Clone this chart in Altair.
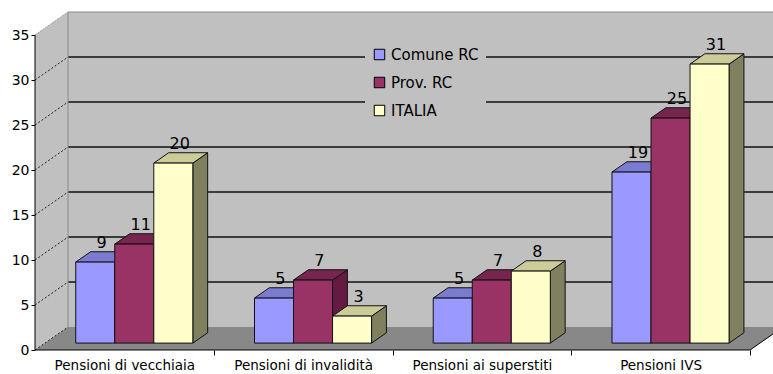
import json

import altair as alt
import pandas as pd

# ---- data -------------------------------------------------------------
categories = [
    "Pensioni di vecchiaia",
    "Pensioni di invalidità",
    "Pensioni ai superstiti",
    "Pensioni IVS",
]
series = ["Comune RC", "Prov. RC", "ITALIA"]
comune_rc = [9, 5, 5, 19]
prov_rc = [11, 7, 7, 25]
italia = [20, 3, 8, 31]
y_ticks = [0, 5, 10, 15, 20, 25, 30, 35]

# ---- styling ----------------------------------------------------------
front_colors = ["#9999FF", "#993366", "#FFFFCC"]
top_colors = ["#7B7BD2", "#76254E", "#CCCC99"]
side_colors = ["#5E5EB0", "#641A42", "#80805F"]
WALL = "#C0C0C0"
FLOOR = "#888888"
EDGE = "#111111"
FONT = "DejaVu Sans"

# ---- 3-D box geometry (oblique projection) ---------------------------
PLOT_W, PLOT_H = 738, 338
PAD = {"left": 35, "top": 12, "right": 0, "bottom": 24}
Y_AXIS_MAX = y_ticks[-1]
DEPTH_PX_X, DEPTH_PX_Y = 33, 23      # how far the back wall is shifted
BAND_PX = 178.75                      # width of one category on the front plane

px_per_unit = (PLOT_H - DEPTH_PX_Y) / Y_AXIS_MAX
DY = DEPTH_PX_Y / px_per_unit         # depth shift in value units
DX = DEPTH_PX_X / BAND_PX             # depth shift in category units
N = len(categories)
X_MAX = PLOT_W / BAND_PX
Y_MAX = Y_AXIS_MAX + DY

GROUP = 0.655                         # share of a category used by its bars
BW = GROUP / len(series)
D0, D1 = 0.30, 0.75                   # front / back depth of the bars

xscale = alt.Scale(domain=[0, X_MAX], nice=False, zero=False)
yscale = alt.Scale(domain=[0, Y_MAX], nice=False, zero=False)

label_lookup = json.dumps(categories, ensure_ascii=False)
x_axis = alt.Axis(
    values=[i + 0.5 for i in range(N)],
    labelExpr=f"{label_lookup}[floor(datum.value)]",
    tickOffset=BAND_PX / 2,
    labelOffset=-BAND_PX / 2,
    domain=False, grid=False, tickSize=5, labelPadding=3,
    labelFontSize=13.5, labelFlush=False, labelOverlap=False, title=None,
)
y_axis = alt.Axis(
    values=y_ticks, domain=False, grid=False, tickSize=4, labelPadding=2,
    labelFontSize=14, labelFlush=False, labelOverlap=False, title=None,
)


def X(field="x"):
    return alt.X(f"{field}:Q", scale=xscale, axis=x_axis)


def Y(field="y"):
    return alt.Y(f"{field}:Q", scale=yscale, axis=y_axis)


# ---- build face tables from the values --------------------------------
values = [comune_rc, prov_rc, italia]
fronts, tops, sides, labels = [], [], [], []
for i in range(N):
    for j, name in enumerate(series):
        v = values[j][i]
        xl = i + (1 - GROUP) / 2 + j * BW
        xr = xl + BW
        key = f"{i}-{j}"
        fronts.append(dict(series=name, x=xl + D0 * DX, x2=xr + D0 * DX,
                           y=v + D0 * DY, y2=D0 * DY))
        for d in (D0, D1):
            tops.append(dict(key=key, fill=top_colors[j], y=v + d * DY,
                             x=xl + d * DX, x2=xr + d * DX))
            sides.append(dict(key=key, fill=side_colors[j], x=xr + d * DX,
                              y=v + d * DY, y2=d * DY))
        labels.append(dict(x=(xl + xr) / 2 + (D0 + D1) / 2 * DX,
                           y=v + D1 * DY, text=str(v)))

# ---- walls and floor --------------------------------------------------
back_wall = alt.Chart(pd.DataFrame([dict(x=DX, x2=N + DX, y=DY, y2=Y_MAX)])).mark_rect(
    fill=WALL).encode(x=X(), x2="x2:Q", y=Y(), y2="y2:Q")

left_wall = alt.Chart(pd.DataFrame([
    dict(x=0, y=Y_AXIS_MAX, y2=0),
    dict(x=DX, y=Y_MAX, y2=DY),
])).mark_area(color=WALL, orient="vertical").encode(x=X(), y=Y(), y2="y2:Q")

floor = alt.Chart(pd.DataFrame([
    dict(y=0, x=0, x2=N),
    dict(y=DY, x=DX, x2=N + DX),
])).mark_area(color=FLOOR, orient="horizontal").encode(y=Y(), x=X(), x2="x2:Q")

back_grid = alt.Chart(pd.DataFrame(
    [dict(y=v + DY, x=DX, x2=N + DX) for v in y_ticks[1:-1]]
)).mark_rule(color=EDGE, strokeWidth=1.3).encode(y=Y(), x=X(), x2="x2:Q")

back_top = alt.Chart(pd.DataFrame([dict(y=Y_MAX, x=DX, x2=N + DX)])).mark_rule(
    color="#8A8A8A").encode(y=Y(), x=X(), x2="x2:Q")

back_left_edge = alt.Chart(pd.DataFrame([dict(x=DX, y=DY, y2=Y_MAX)])).mark_rule(
    color="#8A8A8A").encode(x=X(), y=Y(), y2="y2:Q")

side_grid_rows = []
for v in y_ticks[:-1]:
    side_grid_rows += [dict(k=v, x=0, y=v), dict(k=v, x=DX, y=v + DY)]
side_grid = alt.Chart(pd.DataFrame(side_grid_rows)).mark_line(
    color="#222222", strokeWidth=1, strokeDash=[2, 2]).encode(
    x=X(), y=Y(), detail="k:N")

top_edge = alt.Chart(pd.DataFrame([
    dict(x=0, y=Y_AXIS_MAX), dict(x=DX, y=Y_MAX)
])).mark_line(color="#9A9A9A", strokeWidth=1, strokeDash=[2, 1]).encode(x=X(), y=Y())

# ---- front axis lines -------------------------------------------------
y_axis_line = alt.Chart(pd.DataFrame([dict(x=0, y=0, y2=Y_AXIS_MAX)])).mark_rule(
    color="black").encode(x=X(), y=Y(), y2="y2:Q")
x_axis_line = alt.Chart(pd.DataFrame([dict(y=0, x=0, x2=N)])).mark_rule(
    color="black").encode(y=Y(), x=X(), x2="x2:Q")
floor_edge = alt.Chart(pd.DataFrame([
    dict(x=N, y=0), dict(x=N + DX, y=DY)
])).mark_line(color="black", strokeWidth=1).encode(x=X(), y=Y())

# ---- bars -------------------------------------------------------------
bar_sides = alt.Chart(pd.DataFrame(sides)).mark_area(
    orient="vertical", stroke=EDGE, strokeWidth=1, opacity=1).encode(
    x=X(), y=Y(), y2="y2:Q", detail="key:N",
    fill=alt.Fill("fill:N", scale=None))

bar_tops = alt.Chart(pd.DataFrame(tops)).mark_area(
    orient="horizontal", stroke=EDGE, strokeWidth=1, opacity=1).encode(
    y=Y(), x=X(), x2="x2:Q", detail="key:N",
    fill=alt.Fill("fill:N", scale=None))

bar_fronts = alt.Chart(pd.DataFrame(fronts)).mark_rect(
    stroke=EDGE, strokeWidth=1, opacity=1).encode(
    x=X(), x2="x2:Q", y=Y(), y2="y2:Q",
    color=alt.Color(
        "series:N",
        scale=alt.Scale(domain=series, range=front_colors),
        sort=series,
        legend=alt.Legend(
            title=None, orient="none", legendX=330, legendY=28,
            fillColor=WALL, padding=7, symbolType="square", symbolSize=110,
            symbolStrokeColor="black", symbolStrokeWidth=1, symbolOpacity=1,
            labelFont=FONT, labelFontSize=15, labelColor="black",
            rowPadding=12, labelOffset=4,
        ),
    ),
)

bar_labels = alt.Chart(pd.DataFrame(labels)).mark_text(
    baseline="bottom", dy=-1, dx=-1, font=FONT, fontSize=16, color="black").encode(
    x=X(), y=Y(), text="text:N")

chart = alt.layer(
    back_wall, left_wall, floor, back_grid, back_top, back_left_edge,
    side_grid, top_edge, y_axis_line, x_axis_line, floor_edge,
    bar_sides, bar_tops, bar_fronts, bar_labels,
).properties(
    width=PLOT_W, height=PLOT_H, padding=PAD,
    autosize=alt.AutoSizeParams(type="none"), background="white",
).configure_view(stroke=None).configure_axis(
    labelFont=FONT, labelColor="black", tickColor="black",
)

chart.save("out.html", embed_options={"renderer": "svg", "actions": False})
